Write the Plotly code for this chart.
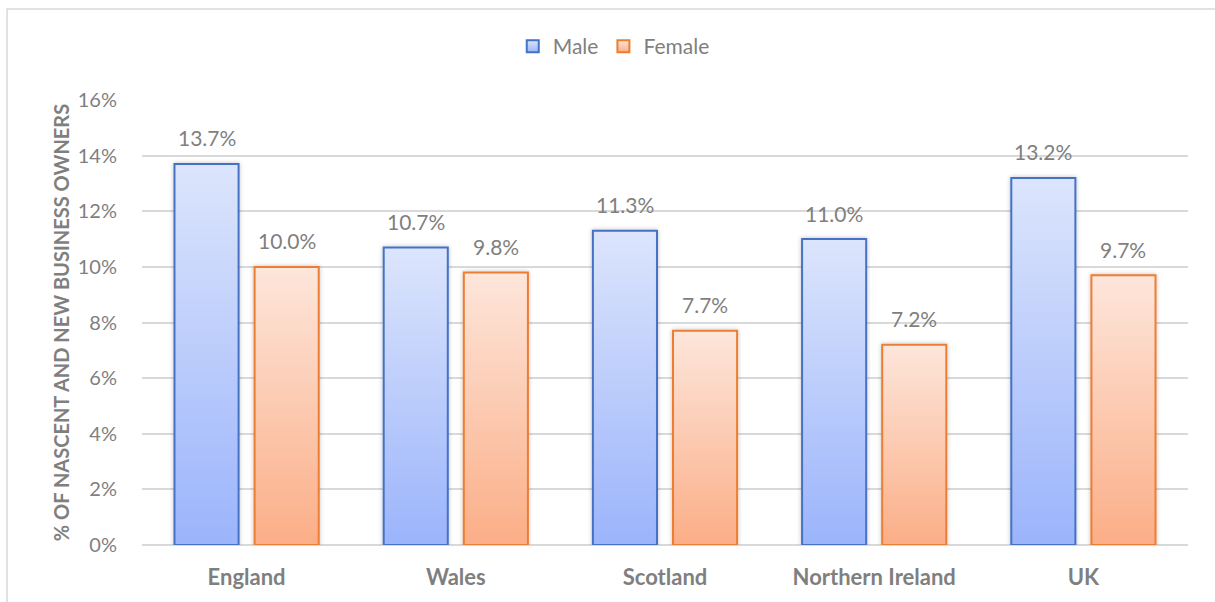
import plotly.graph_objects as go

categories = ["England", "Wales", "Scotland", "Northern Ireland", "UK"]
male = [13.7, 10.7, 11.3, 11.0, 13.2]
female = [10.0, 9.8, 7.7, 7.2, 9.7]
y_ticks = [0, 2, 4, 6, 8, 10, 12, 14, 16]
y_tick_labels = [f"{v}%" for v in y_ticks]

FONT = "Lato, 'Open Sans', sans-serif"
GREY = "#7f7f7f"
GRID = "#d9d9d9"

fig = go.Figure()
fig.add_trace(go.Bar(
    name="Male", x=categories, y=male,
    marker=dict(color="#bccdfb", line=dict(color="#4472c4", width=2)),
    hoverinfo="skip",
))
fig.add_trace(go.Bar(
    name="Female", x=categories, y=female,
    marker=dict(color="#fcc9b0", line=dict(color="#ed7d31", width=2)),
    hoverinfo="skip",
))

for series, shift in ((male, -40), (female, 40)):
    for c, v in zip(categories, series):
        fig.add_annotation(
            x=c, y=v, text=f"{v:.1f}%", showarrow=False,
            xshift=shift, yshift=26, yanchor="middle",
            font=dict(family=FONT, size=21, color=GREY),
        )

# outer chart frame
fig.add_shape(type="rect", xref="paper", yref="paper",
              x0=-0.129, x1=1.04, y0=-0.2, y1=1.2045,
              line=dict(color=GRID, width=1.5), fillcolor="rgba(0,0,0,0)",
              layer="below")

fig.update_layout(
    width=1215, height=602,
    margin=dict(l=142, r=27, t=100, b=57),
    paper_bgcolor="white", plot_bgcolor="white",
    barmode="group", bargap=0.234, bargroupgap=0.2,
    font=dict(family=FONT, size=20, color=GREY),
    legend=dict(orientation="h", x=0.451, xanchor="center", y=1.12, yanchor="middle",
                font=dict(family=FONT, size=21, color=GREY),
                itemwidth=30, traceorder="normal"),
    xaxis=dict(showgrid=False, showline=False, ticks="",
               tickfont=dict(family=FONT, size=22, color=GREY, weight="bold"),
               ticklabelstandoff=17),
    yaxis=dict(range=[0, 16], tickvals=y_ticks, ticktext=y_tick_labels,
               showgrid=True, gridcolor=GRID, gridwidth=1.5,
               zeroline=True, zerolinecolor=GRID, zerolinewidth=1.5,
               showline=False, ticks="",
               tickfont=dict(family=FONT, size=20, color=GREY),
               ticklabelstandoff=24,
               title=dict(text="% OF NASCENT AND NEW BUSINESS OWNERS",
                          font=dict(family=FONT, size=20, color=GREY, weight="bold"),
                          standoff=2)),
)

post = """
document.body.style.margin = '0';
var gd = document.getElementById('{plot_id}');
var svg = gd.querySelector('svg.main-svg');
var ns = 'http://www.w3.org/2000/svg';
var defs = svg.querySelector('defs');
if (!defs) { defs = document.createElementNS(ns, 'defs'); svg.insertBefore(defs, svg.firstChild); }
function mk(id, top, bot) {
  var g = document.createElementNS(ns, 'linearGradient');
  g.setAttribute('id', id); g.setAttribute('x1', '0'); g.setAttribute('y1', '0');
  g.setAttribute('x2', '0'); g.setAttribute('y2', '1');
  var s1 = document.createElementNS(ns, 'stop'); s1.setAttribute('offset', '0'); s1.setAttribute('stop-color', top);
  var s2 = document.createElementNS(ns, 'stop'); s2.setAttribute('offset', '1'); s2.setAttribute('stop-color', bot);
  g.appendChild(s1); g.appendChild(s2); defs.appendChild(g);
}
mk('gradMale', '#dce5fc', '#9bb4fb');
mk('gradFemale', '#fde6db', '#fbae87');
var f = document.createElementNS(ns, 'filter');
f.setAttribute('id', 'barShadow'); f.setAttribute('x', '-20%'); f.setAttribute('y', '-20%');
f.setAttribute('width', '140%'); f.setAttribute('height', '140%');
var ds = document.createElementNS(ns, 'feDropShadow');
ds.setAttribute('dx', '0'); ds.setAttribute('dy', '0'); ds.setAttribute('stdDeviation', '2');
ds.setAttribute('flood-color', '#000'); ds.setAttribute('flood-opacity', '0.25');
f.appendChild(ds); defs.appendChild(f);
var ids = ['gradMale', 'gradFemale'];
var traces = gd.querySelectorAll('.barlayer .trace.bars');
traces.forEach(function(t, i) {
  t.querySelectorAll('path').forEach(function(p) {
    p.style.fill = 'url(#' + ids[i] + ')';
    p.setAttribute('filter', 'url(#barShadow)');
  });
});
var leg = gd.querySelectorAll('.legend .traces');
leg.forEach(function(t, i) {
  t.querySelectorAll('.legendpoints path').forEach(function(p) { p.style.fill = 'url(#' + ids[i] + ')'; });
});
"""

fig.write_html("out.html", post_script=post, config={"displayModeBar": False})
